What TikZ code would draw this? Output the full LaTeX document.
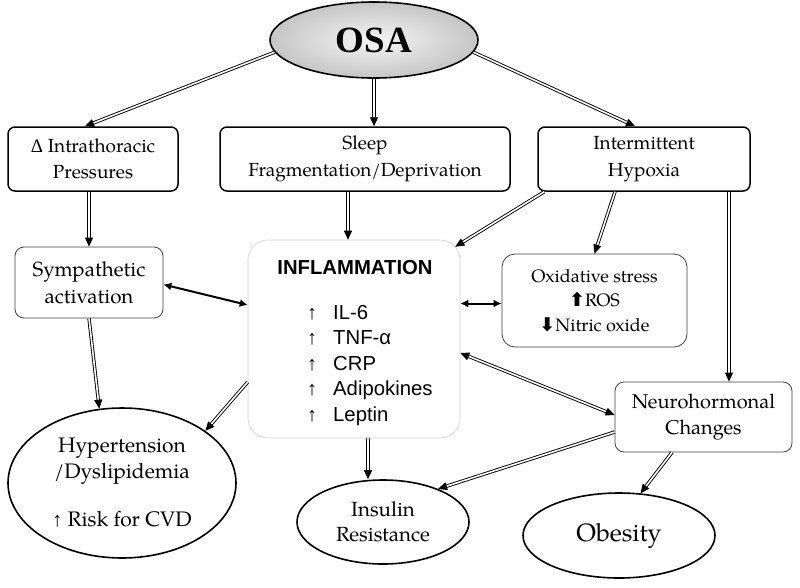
\documentclass[tikz,border=0pt]{standalone}
\usepackage{fontspec}
\setmainfont{texgyrepagella}[Extension=.otf,UprightFont=*-regular,BoldFont=*-bold,ItalicFont=*-italic,BoldItalicFont=*-bolditalic]
\newfontfamily\arialf{Liberation Sans}
\newfontfamily\timesf{Liberation Serif}
\newfontfamily\dejavu{DejaVu Sans}
\usetikzlibrary{arrows.meta,shapes.geometric}
\tikzset{
  topbox/.style={draw, line width=1.5pt, rounded corners=7pt, align=center, inner sep=0pt, font=\fontsize{19}{26.5}\selectfont},
  thinbox/.style={draw=black!75, line width=0.8pt, rounded corners=9pt, align=center, inner sep=0pt, font=\fontsize{19}{26.5}\selectfont},
  oval/.style={draw, ellipse, line width=1.6pt, inner sep=0pt, align=center},
  dbl/.style={draw=black, double=white, double distance=1.6pt, line width=0.9pt, -{Triangle[length=9pt,width=8pt]}},
  dblboth/.style={draw=black, double=white, double distance=1.6pt, line width=0.9pt, {Triangle[length=9pt,width=8pt]}-{Triangle[length=9pt,width=8pt]}},
  biarrow/.style={line width=2pt, {Latex[length=8pt,width=8pt]}-{Latex[length=8pt,width=8pt]}},
}
\newcommand{\thinup}{{\arialf\fontsize{20}{20}\selectfont↑}}
\begin{document}
\begin{tikzpicture}[x=1pt,y=-1pt]
\useasboundingbox (0,0) rectangle (800,587);
% nodes
\node[oval, minimum width=208pt, minimum height=76pt, inner color=gray!8, outer color=gray!45, font=\timesf\bfseries\fontsize{37}{40}\selectfont] (osa) at (374,40) {OSA};
\node[topbox, minimum width=170pt, minimum height=64pt] (itp) at (93,159) {{\timesf Δ} Intrathoracic\\Pressures};
\node[topbox, minimum width=290pt, minimum height=64pt] (sleep) at (365,159) {Sleep\\Fragmentation/Deprivation};
\node[topbox, minimum width=212pt, minimum height=64pt] (ih) at (644,159) {Intermittent\\Hypoxia};
\node[thinbox, minimum width=148pt, minimum height=71pt, font=\fontsize{20.5}{27}\selectfont] (symp) at (89,282.5) {Sympathetic\\activation};
\node[draw=black!18, line width=0.6pt, rounded corners=20pt, minimum width=212pt, minimum height=198pt, fill=white] (infl) at (354,339) {};
\node[font=\arialf\bfseries\fontsize{20.3}{24}\selectfont] (infltitle) at (355,268) {INFLAMMATION};
\node[anchor=north west, align=left, inner sep=0pt, font=\arialf\fontsize{20.3}{25.5}\selectfont] (infllist) at (307,305)
  {\makebox[26pt][l]{\thinup}IL-6\\
   \makebox[26pt][l]{\thinup}TNF-α\\
   \makebox[26pt][l]{\thinup}CRP\\
   \makebox[26pt][l]{\thinup}Adipokines\\
   \makebox[26pt][l]{\thinup}Leptin};
\node[thinbox, rounded corners=13pt, minimum width=185pt, minimum height=93pt, font=\fontsize{18}{24.5}\selectfont] (ox) at (594.5,300.5)
  {Oxidative stress\\{\dejavu\bfseries\fontsize{19}{19}\selectfont ⬆}ROS\\{\dejavu\bfseries\fontsize{19}{19}\selectfont ⬇}Nitric oxide};
\node[thinbox, minimum width=177pt, minimum height=70pt, font=\fontsize{20}{25.5}\selectfont] (neuro) at (703.5,417) {Neurohormonal\\Changes};
\node[oval, minimum width=228pt, minimum height=150pt, font=\fontsize{21}{26}\selectfont] (hyp) at (122,483)
  {Hypertension\\/Dyslipidemia\\[22pt]\thinup\ Risk for CVD};
\node[oval, minimum width=172pt, minimum height=84pt, font=\fontsize{20.5}{25.5}\selectfont] (ins) at (383,522) {Insulin\\Resistance};
\node[oval, minimum width=192pt, minimum height=85pt, font=\fontsize{25}{30}\selectfont] (ob) at (619,535.5) {Obesity};
% helper coordinates
\coordinate (c5) at ([xshift=-6pt]infl.north);
\coordinate (c8) at ([xshift=25.5pt]neuro.north);
\coordinate (c10) at ([yshift=-3pt]ox.west);
\coordinate (c14) at ([xshift=14pt]infl.south);
% connectors
\draw[dbl] (osa.187) -- ([xshift=-8pt]itp.north);
\draw[dbl] (osa.south) -- (osa.south |- sleep.north);
\draw[dbl] (osa.353) -- ([xshift=-9pt]ih.north);
\draw[dbl] (symp.north |- itp.south) -- (symp.north);
\draw[dbl] (c5 |- sleep.south) -- (c5);
\draw[dbl] ([xshift=7pt]ih.south west) -- ([xshift=-5pt,yshift=-7pt]infl.north east);
\draw[dbl] ([xshift=-29pt]ih.south) -- (ox.north);
\draw[dbl] (c8 |- ih.south) -- (c8);
\draw[biarrow] ([yshift=-2pt]symp.east) -- ([yshift=34pt]infl.west);
\draw[biarrow] (c10 -| infl.east) -- (c10);
\draw[dblboth] ([yshift=-14pt]infl.east) -- ([yshift=2pt]neuro.west);
\draw[dbl] (symp.south) -- (hyp.107);
\draw[dbl] ([yshift=-43pt]infl.west) -- (hyp.32);
\draw[dbl] (c14) -- (c14 |- ins.north);
\draw[dbl] ([yshift=-15pt]neuro.west) -- (ins.31);
\draw[dbl] ([xshift=-31.5pt]neuro.south) -- (ob.63);
\end{tikzpicture}
\end{document}
